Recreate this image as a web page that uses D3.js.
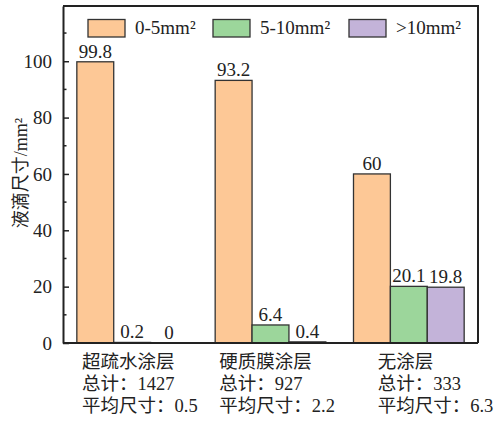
<!DOCTYPE html>
<html>
<head>
<meta charset="utf-8">
<script src="https://cdn.jsdelivr.net/npm/d3@7/dist/d3.min.js"></script>
<style>
  html, body { margin: 0; padding: 0; background: #fff; }
  svg { display: block; }
</style>
</head>
<body>
<svg id="chart" width="497" height="421"></svg>
<script>
// Droplet size distribution by coating type
const categories = ["超疏水涂层", "硬质膜涂层", "无涂层"];
const totals = [1427, 927, 333];
const meanSizes = ["0.5", "2.2", "6.3"];
const seriesNames = ["0-5mm²", "5-10mm²", ">10mm²"];
const small = [99.8, 93.2, 60];     // 0-5 mm²
const medium = [0.2, 6.4, 20.1];    // 5-10 mm²
const large = [0, 0.4, 19.8];       // >10 mm²
const yTicks = [0, 20, 40, 60, 80, 100];
const yMinorTicks = [10, 30, 50, 70, 90, 110];

const series = [small, medium, large];
const colors = ["#FDC896", "#9CD69B", "#C3B3D9"];
const FONT = "'Liberation Serif', 'Times New Roman', 'Noto Sans CJK SC', serif";
const INK = "#222";

const svg = d3.select("#chart");
const m = { left: 63, right: 19, top: 6, bottom: 78 };
const W = 497, H = 421;
const innerW = W - m.left - m.right;
const innerH = H - m.top - m.bottom;

const g = svg.append("g").attr("transform", `translate(${m.left},${m.top})`);

const x0 = d3.scaleBand().domain(categories).range([0, innerW]).paddingInner(0).paddingOuter(0);
const x1 = d3.scaleBand().domain(d3.range(series.length))
  .range([x0.bandwidth() * 0.1, x0.bandwidth() * 0.9]).padding(0);
const y = d3.scaleLinear().domain([0, 119.6]).range([innerH, 0]);

function txt(sel) {
  return sel.attr("font-family", FONT).attr("fill", INK);
}

// bars with value labels
categories.forEach((cat, ci) => {
  const grp = g.append("g").attr("transform", `translate(${x0(cat)},0)`);
  series.forEach((vals, si) => {
    const v = vals[ci];
    grp.append("rect")
      .attr("x", x1(si))
      .attr("y", y(v))
      .attr("width", x1.bandwidth())
      .attr("height", innerH - y(v))
      .attr("fill", colors[si])
      .attr("stroke", "#333")
      .attr("stroke-width", 1.3);
    grp.append("text").call(txt)
      .attr("x", x1(si) + x1.bandwidth() / 2)
      .attr("y", y(v) - 4)
      .attr("text-anchor", "middle")
      .attr("font-size", 19)
      .text(v);
  });
});

// frame (top and right)
g.append("path")
  .attr("d", `M0,0H${innerW}V${innerH}`)
  .attr("fill", "none").attr("stroke", INK).attr("stroke-width", 2);

// y axis with inward ticks
const yAxis = d3.axisLeft(y).tickValues(yTicks).tickSizeInner(-6).tickSizeOuter(0).tickPadding(11);
const ya = g.append("g").call(yAxis).attr("font-family", FONT);
ya.select(".domain").attr("stroke", INK).attr("stroke-width", 2);
ya.selectAll(".tick line").attr("stroke", INK).attr("stroke-width", 1.5);
ya.selectAll(".tick text").call(txt).attr("font-size", 19);
g.append("g").selectAll("line").data(yMinorTicks).join("line")
  .attr("x1", 0).attr("x2", 3.5)
  .attr("y1", d => y(d)).attr("y2", d => y(d))
  .attr("stroke", INK).attr("stroke-width", 1.5);

// x axis baseline
g.append("line").attr("x1", 0).attr("x2", innerW).attr("y1", innerH).attr("y2", innerH)
  .attr("stroke", INK).attr("stroke-width", 2);

// category labels (three lines each)
const labelShift = [19, 18, 38];
categories.forEach((cat, ci) => {
  const t = g.append("text").call(txt)
    .attr("x", x0(cat) + labelShift[ci])
    .attr("y", innerH + 25)
    .attr("font-size", 18.5);
  const lines = [cat, `总计：${totals[ci]}`, `平均尺寸：${meanSizes[ci]}`];
  lines.forEach((ln, li) => {
    t.append("tspan").attr("x", x0(cat) + labelShift[ci]).attr("dy", li === 0 ? 0 : 21.8).text(ln);
  });
});

// y axis title
svg.append("text").call(txt)
  .attr("transform", `translate(27,${m.top + 167}) rotate(-90)`)
  .attr("text-anchor", "middle")
  .attr("font-size", 18)
  .text("液滴尺寸/mm²");

// legend
const legendX = [88, 213, 349];
seriesNames.forEach((name, i) => {
  svg.append("rect")
    .attr("x", legendX[i]).attr("y", 19.5)
    .attr("width", 37).attr("height", 17.5)
    .attr("fill", colors[i]).attr("stroke", "#333").attr("stroke-width", 1.3);
  svg.append("text").call(txt)
    .attr("x", legendX[i] + 47).attr("y", 34)
    .attr("font-size", 19)
    .text(name);
});
</script>
</body>
</html>
